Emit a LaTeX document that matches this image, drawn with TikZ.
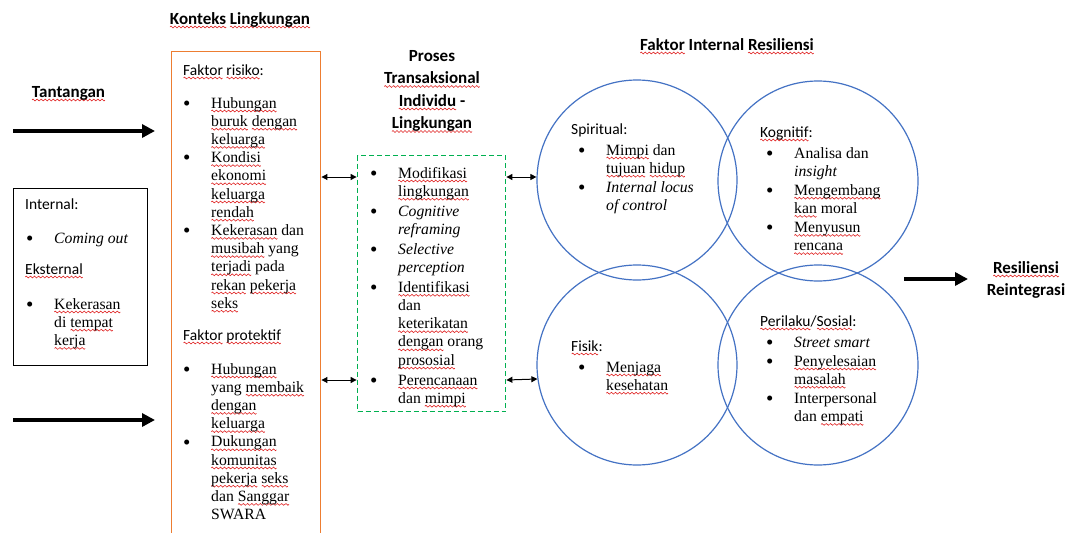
\documentclass[tikz,border=0pt]{standalone}
\usepackage{fontspec}
\setmainfont{Liberation Serif}
\newfontfamily\calfont{Carlito}
\usetikzlibrary{arrows.meta}
\definecolor{wblue}{HTML}{4472C4}
\definecolor{worange}{HTML}{ED7D31}
\definecolor{wgreen}{HTML}{00B050}
\definecolor{wred}{HTML}{E02020}
\newsavebox\wavebox
\newsavebox\sqbox
\newcommand\sq[1]{\sbox\sqbox{#1}\leavevmode\rlap{\lower3pt\hbox to\wd\sqbox{\xleaders\copy\wavebox\hfill}}\usebox\sqbox}
\newcommand{\bodyfont}{\fontsize{15.7}{18.2}\selectfont}
\newcommand{\labfont}{\calfont\fontsize{15.5}{18}\selectfont}
\newcommand{\headfont}{\calfont\bfseries\fontsize{17}{22.5}\selectfont}
\newcommand{\blist}[1]{\begin{tabular}[t]{@{}p{28pt}@{}l@{}}#1\end{tabular}}
\newcommand{\clist}[1]{\begin{tabular}[t]{@{}c@{}}#1\end{tabular}}
\newcommand{\bl}{\raisebox{-2.2pt}{\fontsize{21}{0}\selectfont\textbullet}}
\begin{document}
\sbox\wavebox{\begin{pgfpicture}
 \pgfsetcolor{wred}\pgfsetlinewidth{0.6pt}
 \pgfpathmoveto{\pgfpoint{0pt}{0pt}}
 \pgfpathlineto{\pgfpoint{1pt}{0.9pt}}
 \pgfpathlineto{\pgfpoint{3pt}{-0.9pt}}
 \pgfpathlineto{\pgfpoint{4pt}{0pt}}
 \pgfusepath{stroke}
 \pgfresetboundingbox
 \pgfpathrectangle{\pgfpoint{0pt}{0pt}}{\pgfpoint{4pt}{0pt}}
 \pgfusepath{use as bounding box}
\end{pgfpicture}}
\begin{tikzpicture}[x=1pt,y=-1pt,
  body/.style={font=\bodyfont, inner sep=0pt, anchor=base west},
  lab/.style={font=\labfont, inner sep=0pt, anchor=base west},
  head/.style={font=\headfont, inner sep=0pt, anchor=base},
  bigarrow/.style={line width=4.5pt, -{Triangle[length=13pt,width=13pt]}},
  darrow/.style={line width=1pt, {Triangle[length=6pt,width=6pt]}-{Triangle[length=6pt,width=6pt]}},
  ring/.style={circle, draw, color=wblue, line width=1.2pt, minimum size=200pt, inner sep=0pt},
  panel/.style={rectangle, draw, inner sep=0pt, line width=1.4pt}]
\useasboundingbox (0,0) rectangle (1069,533);
\clip (0,0) rectangle (1069,533);
\fill[white] (0,0) rectangle (1069,533);

% boxes
\node[panel, color=worange, minimum width=149.5pt, minimum height=494pt] (ctx) at (246,298.5) {};
\node[panel, color=black, line width=1.1pt, minimum width=134.5pt, minimum height=177.5pt] (chal) at (80.5,277) {};
\node[panel, color=wgreen, line width=1.8pt, dash pattern=on 5pt off 3pt, minimum width=148pt, minimum height=256pt] (proc) at (431.5,283.5) {};

% circles
\node[ring] (sp) at (637,180) {};
\node[ring] (kg) at (818,181) {};
\node[ring] (fi) at (637,365) {};
\node[ring] (ps) at (818,365) {};

% headings
\node[head] (konteks) at (240,24) {\sq{Konteks} \sq{Lingkungan}};
\node[head] (tant) at (68.5,97) {\sq{Tantangan}};
\node[head] (proses) at (432,61) {\clist{Proses\\ \sq{Transaksional}\\ \sq{Individu} -\\ \sq{Lingkungan}}};
\node[head] (fir) at (727,50) {\sq{Faktor} Internal \sq{Resiliensi}};
\node[head] (res) at (1026,273) {\clist{\sq{Resiliensi}\\[-0.5pt] Reintegrasi}};

% challenge box text
\node[lab] (intl) at (25,209) {Internal:};
\node[body] (intli) at (26,243) {\blist{\bl & \textit{Coming out}}};
\node[lab] (ekst) at (25,274) {\sq{Eksternal}};
\node[body] (eksti) at (26,309) {\blist{\bl & \sq{Kekerasan}\\ & di \sq{tempat}\\ & \sq{kerja}}};

% context box text
\node[lab] (risk) at (183,75) {\sq{Faktor} \sq{risiko}:};
\node[body] (riski) at (183,108) {\blist{
\bl & \sq{Hubungan}\\
 & \sq{buruk} \sq{dengan}\\
 & \sq{keluarga}\\
\bl & \sq{Kondisi}\\
 & \sq{ekonomi}\\
 & \sq{keluarga}\\
 & \sq{rendah}\\
\bl & \sq{Kekerasan} dan\\
 & \sq{musibah} yang\\
 & \sq{terjadi} pada\\
 & \sq{rekan} \sq{pekerja}\\
 & \sq{seks}}};
\node[lab] (prot) at (183,340) {\sq{Faktor} \sq{protektif}};
\node[body] (proti) at (183,374) {\blist{
\bl & \sq{Hubungan}\\
 & yang \sq{membaik}\\
 & \sq{dengan}\\
 & \sq{keluarga}\\
\bl & \sq{Dukungan}\\
 & \sq{komunitas}\\
 & \sq{pekerja} \sq{seks}\\
 & dan \sq{Sanggar}\\
 & SWARA}};

% process box text
\node[body] (proci) at (370,178) {\blist{
\bl & \sq{Modifikasi}\\
 & \sq{lingkungan}\\[1.7pt]
\bl & \textit{Cognitive}\\
 & \textit{reframing}\\[1.7pt]
\bl & \textit{Selective}\\
 & \textit{perception}\\[1.7pt]
\bl & \sq{Identifikasi}\\
 & dan\\
 & \sq{keterikatan}\\
 & \sq{dengan} orang\\
 & \sq{prososial}\\[1.7pt]
\bl & \sq{Perencanaan}\\
 & dan \sq{mimpi}}};

% circle texts
\node[lab] (spl) at (571,134) {Spiritual:};
\node[body] (spi) at (578,155) {\blist{
\bl & \sq{Mimpi} dan\\
 & \sq{tujuan} \sq{hidup}\\[0.8pt]
\bl & \textit{Internal locus}\\
 & \textit{of control}}};
\node[lab] (kgl) at (760,137) {\sq{Kognitif}:};
\node[body] (kgi) at (766,158) {\blist{
\bl & Analisa dan\\
 & \textit{insight}\\[0.8pt]
\bl & \sq{Mengembang}\\
 & \sq{kan} moral\\[0.8pt]
\bl & \sq{Menyusun}\\
 & \sq{rencana}}};
\node[lab] (fil) at (571,351) {\sq{Fisik}:};
\node[body] (fii) at (578,372) {\blist{
\bl & \sq{Menjaga}\\
 & \sq{kesehatan}}};
\node[lab] (psl) at (760,326) {\sq{Perilaku}/\sq{Sosial}:};
\node[body] (psi) at (766,347) {\blist{
\bl & \textit{Street smart}\\[0.8pt]
\bl & \sq{Penyelesaian}\\
 & \sq{masalah}\\[0.8pt]
\bl & Interpersonal\\
 & dan \sq{empati}}};

% connectors
\coordinate (t1s) at (13,131);
\coordinate (t1e) at (155,131);
\coordinate (t2s) at (13,420);
\coordinate (t2e) at (155,420);
\coordinate (ra) at (904,279);
\coordinate (rb) at (968,279);
\coordinate (y1) at (0,177);
\coordinate (y2) at (0,380);
\draw[bigarrow] (t1s) -- (t1e);
\draw[bigarrow] (t2s) -- (t2e);
\draw[bigarrow] (ra) -- (rb);
\draw[darrow] (ctx.east |- y1) -- (proc.west |- y1);
\draw[darrow] (ctx.east |- y2) -- (proc.west |- y2);
\draw[darrow] (proc.east |- y1) -- (sp.west |- y1);
\draw[darrow] (proc.east |- y2) -- (fi.188.6);
\end{tikzpicture}
\end{document}
